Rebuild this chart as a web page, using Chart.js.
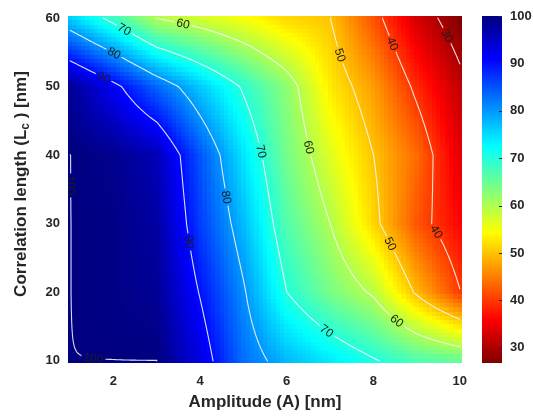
<!DOCTYPE html>
<html>
<head>
<meta charset="utf-8">
<style>
  html, body { margin: 0; padding: 0; background: #fff; }
</style>
<script src="https://cdn.jsdelivr.net/npm/chart.js@4.4.1/dist/chart.umd.min.js"></script>
</head>
<body>
<canvas id="chart" width="533" height="417"></canvas>
<script>
// grid of the simulation: amplitude (x) and correlation length (y)
const amplitude = [1, 2, 3, 4, 5, 6, 7, 8, 9, 10];
const corrLength = [10, 20, 30, 40, 50, 60];

// values, one row per correlation length
const z10 = [100, 100, 100, 93, 83, 77.6, 74, 70.5, 67, 65.2];
const z20 = [100, 99.5, 98.5, 89.7, 80.6, 70.05, 64, 59.3, 49.3, 40.2];
const z30 = [100, 99.5, 97.5, 86.6, 77.4, 66.7, 60.05, 51.5, 42.1, 36.1];
const z40 = [100, 99, 96, 84.9, 74.3, 64.3, 56.6, 50.05, 43.7, 34];
const z50 = [98.5, 91.5, 83.6, 76.4, 69.4, 62.5, 52.9, 47.3, 38.9, 31.5];
const z60 = [76, 68.2, 59.9, 57.3, 54.7, 51.5, 50.1, 41.9, 32.9, 27];
const zRows = [z10, z20, z30, z40, z50, z60];

const xTicks = [2, 4, 6, 8, 10];
const yTicks = [10, 20, 30, 40, 50, 60];
const cbTicks = [30, 40, 50, 60, 70, 80, 90, 100];
const levels = [30, 40, 50, 60, 70, 80, 90, 100];
const zMin = 26.8, zMax = 100;

// where the inline contour labels sit (level, amplitude, corr. length)
const labelSpots = [
  [70, 2.22, 58.0], [60, 3.61, 59.2], [80, 1.99, 54.6], [90, 1.76, 51.2],
  [70, 5.38, 40.5], [60, 6.54, 41.2], [50, 7.23, 54.6], [40, 8.46, 56.3],
  [30, 9.66, 57.3], [80, 4.62, 33.9], [90, 3.81, 27.4], [100, 1.0, 35.6],
  [100, 1.53, 10.0], [50, 8.34, 26.9], [40, 9.39, 28.6], [70, 7.0, 15.0],
  [60, 8.5, 15.5]
];

const clamp01 = v => Math.max(0, Math.min(1, v));

// reversed jet: high = dark blue, low = dark red
function colour(v) {
  const t = clamp01((zMax - v) / (zMax - zMin));
  const r = clamp01(1.5 - Math.abs(4 * t - 3));
  const g = clamp01(1.5 - Math.abs(4 * t - 2));
  const b = clamp01(1.5 - Math.abs(4 * t - 1));
  return 'rgb(' + Math.round(r * 255) + ',' + Math.round(g * 255) + ',' + Math.round(b * 255) + ')';
}

// bilinear surface through the grid
function zAt(x, y) {
  const nx = amplitude.length, ny = corrLength.length;
  const dx = amplitude[1] - amplitude[0], dy = corrLength[1] - corrLength[0];
  let i = Math.floor((x - amplitude[0]) / dx);
  let j = Math.floor((y - corrLength[0]) / dy);
  i = Math.max(0, Math.min(nx - 2, i));
  j = Math.max(0, Math.min(ny - 2, j));
  const fx = (x - amplitude[i]) / dx, fy = (y - corrLength[j]) / dy;
  return (1 - fx) * (1 - fy) * zRows[j][i] + fx * (1 - fy) * zRows[j][i + 1] +
         (1 - fx) * fy * zRows[j + 1][i] + fx * fy * zRows[j + 1][i + 1];
}

// sample the surface finely, then marching squares on it
const fineX = [], fineY = [];
for (let k = 0; k <= 180; k++) fineX.push(amplitude[0] + k * 0.05);
for (let k = 0; k <= 200; k++) fineY.push(corrLength[0] + k * 0.25);
const fineZ = fineY.map(y => fineX.map(x => zAt(x, y)));

function contourSegs(level) {
  const L = level >= zMax ? zMax - 0.01 : level;
  const segs = [];
  for (let j = 0; j < fineY.length - 1; j++) {
    for (let i = 0; i < fineX.length - 1; i++) {
      const c = [
        [fineX[i], fineY[j], fineZ[j][i]],
        [fineX[i + 1], fineY[j], fineZ[j][i + 1]],
        [fineX[i + 1], fineY[j + 1], fineZ[j + 1][i + 1]],
        [fineX[i], fineY[j + 1], fineZ[j + 1][i]]
      ];
      const pts = [];
      for (let k = 0; k < 4; k++) {
        const p = c[k], q = c[(k + 1) % 4];
        if ((p[2] >= L) !== (q[2] >= L)) {
          const t = (L - p[2]) / (q[2] - p[2]);
          pts.push([p[0] + t * (q[0] - p[0]), p[1] + t * (q[1] - p[1])]);
        }
      }
      if (pts.length === 2) segs.push([pts[0], pts[1]]);
      else if (pts.length === 4) { segs.push([pts[0], pts[3]]); segs.push([pts[1], pts[2]]); }
    }
  }
  return segs;
}

const mapPlugin = {
  id: 'map',
  beforeDatasetsDraw(chart) {
    const ctx = chart.ctx, area = chart.chartArea;
    const xs = chart.scales.x, ys = chart.scales.y, cs = chart.scales.c;

    // image
    ctx.save();
    ctx.beginPath();
    ctx.rect(area.left, area.top, area.right - area.left, area.bottom - area.top);
    ctx.clip();
    const stepX = 0.1, stepY = 0.625;
    for (let x = amplitude[0]; x <= amplitude[amplitude.length - 1] + 1e-9; x += stepX) {
      const x0 = Math.round(xs.getPixelForValue(x - stepX / 2));
      const x1 = Math.round(xs.getPixelForValue(x + stepX / 2));
      for (let y = corrLength[0]; y <= corrLength[corrLength.length - 1] + 1e-9; y += stepY) {
        const y0 = Math.round(ys.getPixelForValue(y + stepY / 2));
        const y1 = Math.round(ys.getPixelForValue(y - stepY / 2));
        ctx.fillStyle = colour(zAt(x, y));
        ctx.fillRect(x0, y0, x1 - x0, y1 - y0);
      }
    }

    // contours in pixels
    const pix = {};
    levels.forEach(l => {
      pix[l] = contourSegs(l).map(s => s.map(p => [xs.getPixelForValue(p[0]), ys.getPixelForValue(p[1])]));
    });

    // label placement: snap to the nearest piece of its contour
    ctx.font = '12px "Liberation Sans", Arial, sans-serif';
    const labels = labelSpots.map(([l, x, y]) => {
      const px = xs.getPixelForValue(x), py = ys.getPixelForValue(y);
      let best = null, bd = Infinity;
      pix[l].forEach(s => {
        const [a, b] = s;
        const vx = b[0] - a[0], vy = b[1] - a[1];
        const len2 = vx * vx + vy * vy || 1;
        const t = Math.max(0, Math.min(1, ((px - a[0]) * vx + (py - a[1]) * vy) / len2));
        const qx = a[0] + t * vx, qy = a[1] + t * vy;
        const d = (qx - px) ** 2 + (qy - py) ** 2;
        if (d < bd) { bd = d; best = { x: qx, y: qy }; }
      });
      // direction from the contour pieces around the snapped point
      let sx = 0, sy = 0;
      pix[l].forEach(s => {
        const mx = (s[0][0] + s[1][0]) / 2, my = (s[0][1] + s[1][1]) / 2;
        if ((mx - best.x) ** 2 + (my - best.y) ** 2 < 64) {
          let vx = s[1][0] - s[0][0], vy = s[1][1] - s[0][1];
          if (vx < 0 || (vx === 0 && vy < 0)) { vx = -vx; vy = -vy; }
          sx += vx; sy += vy;
        }
      });
      let ang = Math.atan2(sy, sx);
      if (ang > Math.PI / 2) ang -= Math.PI;
      if (ang <= -Math.PI / 2) ang += Math.PI;
      const text = String(l);
      return { x: best.x, y: best.y, ang, text, w: ctx.measureText(text).width + 4, h: 12 };
    });

    // lines with gaps under the labels
    ctx.save();
    ctx.beginPath();
    ctx.rect(area.left, area.top, area.right - area.left, area.bottom - area.top);
    labels.forEach(lb => {
      const cx = Math.cos(lb.ang), sx = Math.sin(lb.ang);
      const hw = lb.w / 2, hh = lb.h / 2;
      const corners = [[-hw, -hh], [hw, -hh], [hw, hh], [-hw, hh]].map(([u, v]) =>
        [lb.x + u * cx - v * sx, lb.y + u * sx + v * cx]);
      ctx.moveTo(corners[0][0], corners[0][1]);
      for (let k = 1; k < 4; k++) ctx.lineTo(corners[k][0], corners[k][1]);
      ctx.closePath();
    });
    ctx.clip('evenodd');
    ctx.strokeStyle = 'rgba(245,245,245,0.9)';
    ctx.lineWidth = 1.1;
    ctx.lineCap = 'round';
    ctx.beginPath();
    levels.forEach(l => pix[l].forEach(s => {
      ctx.moveTo(s[0][0], s[0][1]);
      ctx.lineTo(s[1][0], s[1][1]);
    }));
    ctx.stroke();
    ctx.restore();

    ctx.fillStyle = '#1c1c1c';
    ctx.textAlign = 'center';
    ctx.textBaseline = 'middle';
    labels.forEach(lb => {
      ctx.save();
      ctx.translate(lb.x, lb.y);
      ctx.rotate(lb.ang);
      ctx.fillText(lb.text, 0, 0.5);
      ctx.restore();
    });
    ctx.restore();

    // colour bar
    const bx = cs.left + 20, bw = 20;
    const top = Math.round(cs.getPixelForValue(zMax)), bot = Math.round(cs.getPixelForValue(zMin));
    for (let p = top; p < bot; p++) {
      ctx.fillStyle = colour(cs.getValueForPixel(p + 0.5));
      ctx.fillRect(bx, p, bw, 1);
    }
    ctx.strokeStyle = '#262626';
    ctx.lineWidth = 1;
    ctx.beginPath();
    cbTicks.forEach(v => {
      const p = Math.round(cs.getPixelForValue(v)) + 0.5;
      ctx.moveTo(bx + bw - 3, p);
      ctx.lineTo(bx + bw, p);
    });
    ctx.stroke();

    // y title with subscript
    ctx.save();
    ctx.fillStyle = '#262626';
    ctx.translate(21, 184);
    ctx.rotate(-Math.PI / 2);
    const big = 'bold 17px "Liberation Sans", Arial, sans-serif';
    const small = 'bold 12px "Liberation Sans", Arial, sans-serif';
    const parts = [['Correlation length (L', big, 0], ['c', small, 5], [' ) [nm]', big, 0]];
    let total = 0;
    parts.forEach(p => { ctx.font = p[1]; total += ctx.measureText(p[0]).width; });
    let cx = -total / 2;
    ctx.textAlign = 'left';
    ctx.textBaseline = 'middle';
    parts.forEach(p => {
      ctx.font = p[1];
      ctx.fillText(p[0], cx, p[2]);
      cx += ctx.measureText(p[0]).width;
    });
    ctx.restore();
  }
};

Chart.defaults.font.family = '"Liberation Sans", Arial, sans-serif';
Chart.defaults.color = '#262626';

const tickFont = { size: 13, weight: 'bold' };
const noPad = s => { s.paddingTop = 0; s.paddingBottom = 0; };

new Chart(document.getElementById('chart'), {
  type: 'scatter',
  data: {
    datasets: [{
      data: corrLength.flatMap(y => amplitude.map(x => ({ x, y }))),
      pointRadius: 0
    }]
  },
  options: {
    responsive: false,
    animation: false,
    devicePixelRatio: 1,
    layout: { padding: { top: 16, left: 0, right: 0, bottom: 0 } },
    plugins: { legend: { display: false }, tooltip: { enabled: false } },
    scales: {
      x: {
        type: 'linear', position: 'bottom', min: 0.95, max: 10.05,
        grid: { display: false, drawTicks: false },
        border: { display: false },
        afterBuildTicks: s => { s.ticks = xTicks.map(v => ({ value: v })); },
        afterFit: s => { s.height = 54; s.paddingLeft = 0; s.paddingRight = 0; },
        ticks: { font: tickFont, padding: 11, maxRotation: 0 },
        title: {
          display: true, text: 'Amplitude (A) [nm]',
          font: { size: 17, weight: 'bold' }, padding: { top: 0, bottom: 4 }
        }
      },
      y: {
        type: 'linear', position: 'left', min: 9.6875, max: 60.3125,
        grid: { display: false, drawTicks: false },
        border: { display: false },
        afterBuildTicks: s => { s.ticks = yTicks.map(v => ({ value: v })); },
        afterFit: s => { s.width = 68; noPad(s); },
        ticks: { font: tickFont, padding: 8 }
      },
      c: {
        type: 'linear', position: 'right', min: zMin, max: zMax,
        grid: { display: false, drawTicks: false },
        border: { display: false },
        afterBuildTicks: s => { s.ticks = cbTicks.map(v => ({ value: v })); },
        afterFit: s => { s.width = 71; noPad(s); },
        ticks: { font: tickFont, padding: 48 }
      }
    }
  },
  plugins: [mapPlugin]
});
</script>
</body>
</html>
